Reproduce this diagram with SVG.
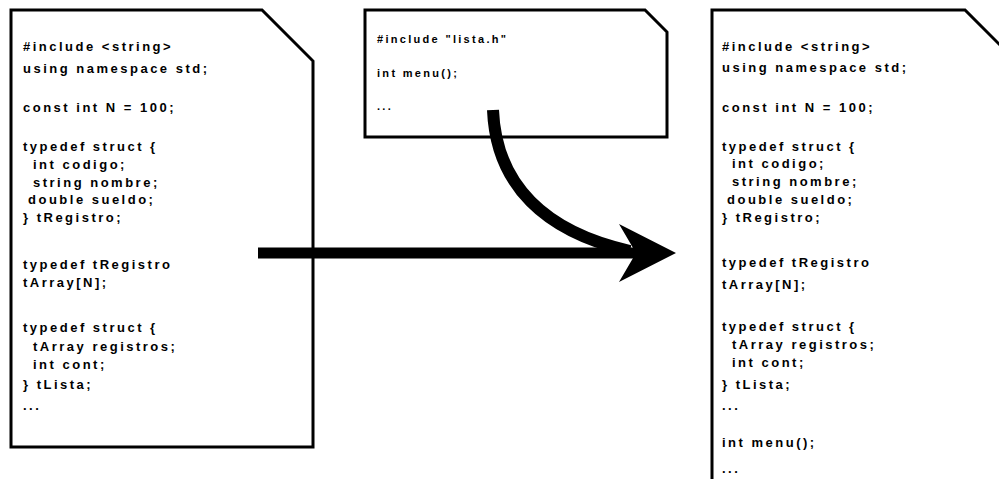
<svg xmlns="http://www.w3.org/2000/svg" width="999" height="479" viewBox="0 0 999 479">
<style>
.doc{fill:#fff;stroke:#000;stroke-width:3;stroke-linejoin:miter}
.code{font-family:"Liberation Sans",Arial,sans-serif;font-weight:bold;font-size:13px;letter-spacing:2.5px;fill:#000}
.small{font-size:11px;letter-spacing:2.3px}
</style>
<rect width="999" height="479" fill="#fff"/>
<g id="doc-left">
<path class="doc" d="M11,10 L262,10 L313,61 L313,447 L11,447 Z"/>
<text class="code" x="23" y="51">#include &lt;string&gt;</text>
<text class="code" x="23" y="73">using namespace std;</text>
<text class="code" x="23" y="112">const int N = 100;</text>
<text class="code" x="23" y="151">typedef struct {</text>
<text class="code" x="33" y="169">int codigo;</text>
<text class="code" x="33" y="187">string nombre;</text>
<text class="code" x="28" y="204">double sueldo;</text>
<text class="code" x="23" y="222">} tRegistro;</text>
<text class="code" x="23" y="269">typedef tRegistro</text>
<text class="code" x="23" y="287">tArray[N];</text>
<text class="code" x="23" y="332">typedef struct {</text>
<text class="code" x="33" y="351">tArray registros;</text>
<text class="code" x="33" y="369">int cont;</text>
<text class="code" x="23" y="389">} tLista;</text>
<text class="code" x="23" y="410">...</text>
</g>
<g id="doc-middle">
<path class="doc" d="M365,10 L645,10 L667,32 L667,137 L365,137 Z"/>
<text class="code small" x="377" y="43">#include "lista.h"</text>
<text class="code small" x="377" y="77">int menu();</text>
<text class="code small" x="377" y="110">...</text>
</g>
<g id="doc-right">
<path class="doc" d="M712,10 L965,10 L1016,61 L1016,485 L712,485 Z"/>
<text class="code" x="722" y="51">#include &lt;string&gt;</text>
<text class="code" x="722" y="72">using namespace std;</text>
<text class="code" x="722" y="112">const int N = 100;</text>
<text class="code" x="722" y="151">typedef struct {</text>
<text class="code" x="732" y="168">int codigo;</text>
<text class="code" x="732" y="186">string nombre;</text>
<text class="code" x="727" y="204">double sueldo;</text>
<text class="code" x="722" y="222">} tRegistro;</text>
<text class="code" x="722" y="267">typedef tRegistro</text>
<text class="code" x="722" y="289">tArray[N];</text>
<text class="code" x="722" y="331">typedef struct {</text>
<text class="code" x="732" y="349">tArray registros;</text>
<text class="code" x="732" y="367">int cont;</text>
<text class="code" x="722" y="389">} tLista;</text>
<text class="code" x="722" y="410">...</text>
<text class="code" x="722" y="447">int menu();</text>
<text class="code" x="722" y="473">...</text>
</g>
<g id="connectors">
<path d="M493,110 C496,185 545,232 630,251" fill="none" stroke="#000" stroke-width="12"/>
<line x1="258" y1="253" x2="640" y2="253" stroke="#000" stroke-width="11"/>
<polygon points="619,224 676,253 619,282 636,253" fill="#000"/>
</g>
</svg>
